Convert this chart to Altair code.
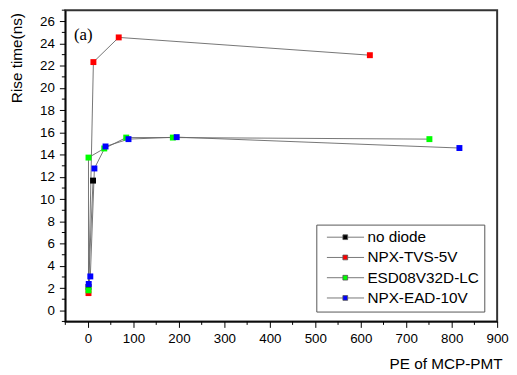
import altair as alt
import pandas as pd

series_names = ["no diode", "NPX-TVS-5V", "ESD08V32D-LC", "NPX-EAD-10V"]
series_colors = ["#000000", "#ff0000", "#00ff00", "#0000ff"]

no_diode_pe = [1, 11]
no_diode_rt = [2.1, 11.67]

tvs_pe = [1, 11.8, 67.5, 620]
tvs_rt = [1.55, 22.33, 24.55, 22.95]

esd_pe = [1, 1, 35.7, 84, 186.6, 751]
esd_rt = [1.8, 13.74, 14.56, 15.54, 15.54, 15.4]

ead_pe = [1.5, 5, 14, 38.5, 89, 195, 817]
ead_rt = [2.37, 3.05, 12.76, 14.74, 15.4, 15.58, 14.6]

panel_label = ["(a)"]
panel_label_x = [-10.5]
panel_label_y = [24.75]

x_major = list(range(0, 901, 100))
x_minor = list(range(-50, 900, 100))
y_major = list(range(0, 27, 2))
y_minor = list(range(-1, 28, 2))

W, H = 437, 315

rows = []
for name, pes, rts in zip(series_names,
                          [no_diode_pe, tvs_pe, esd_pe, ead_pe],
                          [no_diode_rt, tvs_rt, esd_rt, ead_rt]):
    for i, (p, r) in enumerate(zip(pes, rts)):
        rows.append({"series": name, "pe": p, "rt": r, "idx": i})
df = pd.DataFrame(rows)

xscale = alt.Scale(domain=[-50, 900], nice=False, zero=False)
yscale = alt.Scale(domain=[-1, 27], nice=False, zero=False)

xaxis = alt.Axis(
    title="PE of MCP-PMT", values=x_major, grid=False, tickSize=6,
    labelOverlap=False, labelFlush=False, labelPadding=4,
    titleAnchor="end", titleAlign="right", titleX=442, titleY=43,
    titleBaseline="middle",
)
yaxis = alt.Axis(
    title="Rise time(ns)", values=y_major, grid=False, tickSize=6,
    labelOverlap=False, labelFlush=False, labelPadding=5,
    titleX=-49, titleY=48, titleAngle=270, titleAlign="center",
    titleBaseline="middle",
)

X = alt.X("pe:Q", scale=xscale, axis=xaxis)
Y = alt.Y("rt:Q", scale=yscale, axis=yaxis)

base = alt.Chart(df)

lines = base.mark_line(color="#666666", strokeWidth=0.9).encode(
    x=X, y=Y, detail="series:N", order="idx:Q",
)

# legend symbol: short line - square - short line (unit coords, scaled by sqrt(size)/2)
legend_path = "M-0.68,0H4.72M6.32,0H11.85M4.72,-0.8H6.32V0.8H4.72Z"

points = base.mark_square(size=36, filled=True, opacity=1).encode(
    x=X, y=Y,
    color=alt.Color(
        "series:N",
        scale=alt.Scale(domain=series_names, range=series_colors),
        sort=series_names,
        legend=alt.Legend(
            title=None, orient="none", legendX=254, legendY=217,
            symbolType=legend_path, symbolSize=36,
            symbolStrokeColor="#555555", symbolStrokeWidth=0.8,
            labelOffset=31.2,
            labelFontSize=15.5, labelFont="Liberation Sans", labelColor="#000000",
            strokeColor="#555555", fillColor="#ffffff", padding=5,
            rowPadding=3.5,
        ),
    ),
)

xminor_df = pd.DataFrame({"v": x_minor})
xminor = alt.Chart(xminor_df).mark_rule(color="#000000", strokeWidth=1).encode(
    x=alt.X("v:Q", scale=xscale, axis=xaxis),
    y=alt.value(H),
    y2=alt.value(H + 3.5),
)
yminor_df = pd.DataFrame({"v": y_minor})
yminor = alt.Chart(yminor_df).mark_rule(color="#000000", strokeWidth=1).encode(
    y=alt.Y("v:Q", scale=yscale, axis=yaxis),
    x=alt.value(0),
    x2=alt.value(-3.5),
)

label_df = pd.DataFrame({"t": panel_label, "x": panel_label_x, "y": panel_label_y})
label = alt.Chart(label_df).mark_text(
    font="Liberation Serif", fontSize=17, align="center", baseline="middle", color="#000000"
).encode(
    x=alt.X("x:Q", scale=xscale, axis=xaxis),
    y=alt.Y("y:Q", scale=yscale, axis=yaxis),
    text="t:N",
)

chart = (
    alt.layer(lines, points, xminor, yminor, label)
    .properties(
        width=W, height=H,
        autosize=alt.AutoSizeParams(type="none"),
        padding={"left": 58, "top": 0, "right": 12, "bottom": 52},
        background="#ffffff",
    )
    .configure_axis(
        labelFont="Liberation Sans", titleFont="Liberation Sans",
        labelFontSize=13.5, titleFontSize=15.5, labelColor="#000000",
        titleColor="#000000", titleFontWeight="normal",
        domainColor="#000000", tickColor="#000000", domainWidth=1.2, tickWidth=1,
    )
    .configure_view(stroke="#333333", strokeWidth=2)
)

chart.save("out.html", embed_options={"renderer": "svg", "actions": False})
